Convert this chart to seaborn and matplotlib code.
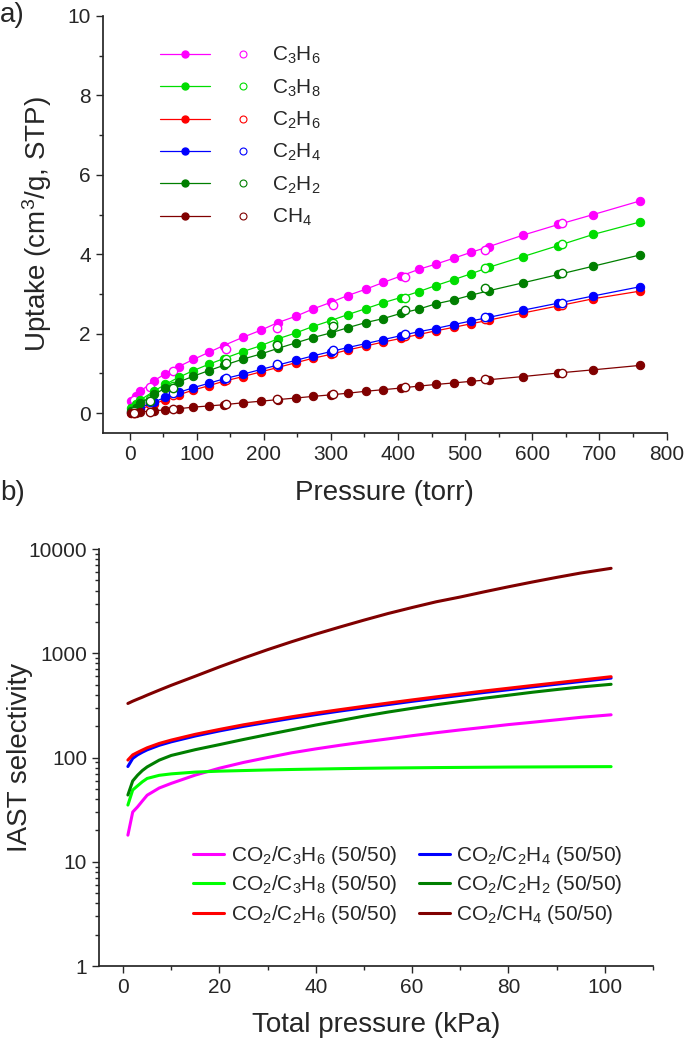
import numpy as np
import pandas as pd
import matplotlib
matplotlib.use("Agg")
import matplotlib.pyplot as plt
import seaborn as sns
from matplotlib.lines import Line2D
from matplotlib.legend_handler import HandlerTuple
from matplotlib.ticker import MultipleLocator, LogLocator, NullFormatter, FixedLocator, FixedFormatter

# -----------------------------
# data: panel a (isotherms, torr vs cm3/g)
# -----------------------------
p_ads = [2, 9, 16, 37, 53, 73, 95, 118, 140, 169, 196, 221, 248, 273, 300, 325,
         352, 378, 404, 431, 456, 483, 509, 535, 586, 639, 691, 760]
p_des = [7, 30, 65, 143, 220, 303, 410, 530, 645]

c3h6_ads = [0.30, 0.42, 0.55, 0.82, 0.99, 1.17, 1.35, 1.53, 1.70, 1.91, 2.09, 2.28, 2.44, 2.62,
            2.79, 2.96, 3.12, 3.29, 3.45, 3.62, 3.75, 3.90, 4.05, 4.19, 4.48, 4.75, 5.00, 5.34]
c3h8_ads = [0.12, 0.22, 0.33, 0.56, 0.72, 0.90, 1.07, 1.23, 1.37, 1.55, 1.70, 1.87, 2.02, 2.18,
            2.33, 2.48, 2.63, 2.78, 2.91, 3.06, 3.21, 3.36, 3.51, 3.67, 3.94, 4.22, 4.50, 4.81]
c2h6_ads = [0.01, 0.05, 0.10, 0.23, 0.34, 0.46, 0.58, 0.69, 0.80, 0.92, 1.04, 1.15, 1.27, 1.38,
            1.48, 1.59, 1.69, 1.79, 1.88, 1.98, 2.07, 2.16, 2.25, 2.34, 2.52, 2.70, 2.88, 3.07]
c2h4_ads = [0.03, 0.08, 0.14, 0.28, 0.40, 0.52, 0.64, 0.75, 0.86, 0.98, 1.10, 1.21, 1.33, 1.44,
            1.55, 1.65, 1.75, 1.85, 1.95, 2.05, 2.13, 2.23, 2.32, 2.41, 2.59, 2.77, 2.95, 3.18]
c2h2_ads = [0.05, 0.14, 0.25, 0.47, 0.63, 0.78, 0.93, 1.07, 1.20, 1.36, 1.49, 1.63, 1.77, 1.90,
            2.02, 2.15, 2.28, 2.38, 2.51, 2.62, 2.75, 2.85, 2.97, 3.08, 3.28, 3.49, 3.70, 3.98]
ch4_ads = [0.00, 0.01, 0.03, 0.06, 0.08, 0.11, 0.15, 0.18, 0.21, 0.26, 0.30, 0.34, 0.38, 0.42,
           0.46, 0.50, 0.55, 0.59, 0.63, 0.68, 0.72, 0.76, 0.80, 0.84, 0.92, 1.01, 1.09, 1.20]

c3h6_des = [0.32, 0.66, 1.05, 1.62, 2.15, 2.72, 3.42, 4.10, 4.78]
c3h8_des = [0.10, 0.36, 0.68, 1.36, 1.75, 2.27, 2.90, 3.65, 4.26]
c2h6_des = [0.01, 0.22, 0.45, 0.83, 1.18, 1.52, 1.93, 2.36, 2.72]
c2h4_des = [0.02, 0.27, 0.50, 0.88, 1.24, 1.58, 2.00, 2.42, 2.78]
c2h2_des = [0.05, 0.30, 0.62, 1.27, 1.72, 2.20, 2.60, 3.15, 3.52]
ch4_des = [0.00, 0.04, 0.10, 0.22, 0.36, 0.48, 0.66, 0.85, 1.02]

gas_labels = ["C$_3$H$_6$", "C$_3$H$_8$", "C$_2$H$_6$", "C$_2$H$_4$", "C$_2$H$_2$", "CH$_4$"]
gas_colors = ["#ff00ff", "#00dd00", "#ff0000", "#0000ff", "#007f00", "#800000"]

# -----------------------------
# data: panel b (IAST selectivity vs total pressure, kPa)
# -----------------------------
p_kpa = [1, 2, 3, 4, 5, 7.5, 10, 15, 20, 25, 30, 35, 40, 45, 50, 55, 60, 65, 70, 75,
         80, 85, 90, 95, 101.3]
sel_c3h6 = [18, 30, 33.6, 38.3, 43.5, 51, 56.5, 67.9, 79, 89.7, 100, 111, 121, 131, 141,
            151, 162, 173, 184, 195, 207, 218, 230, 243, 257]
sel_c3h8 = [35, 48.8, 53.5, 58.5, 63, 67.5, 69.7, 72.5, 74, 75, 76, 76.8, 77.5, 78.2, 78.8,
            79.3, 79.7, 80.1, 80.4, 80.7, 81, 81.2, 81.4, 81.6, 81.8]
sel_c2h6 = [94.6, 106, 112, 118, 124, 136.5, 147, 167, 186, 206, 225, 246, 267, 288, 310,
            333, 357, 382, 408, 435, 462, 491, 521, 553, 596]
sel_c2h4 = [82, 98, 106, 112.5, 118.5, 131, 141.5, 161, 180, 199, 218, 238, 258, 279, 300,
            322, 346, 370, 395, 421, 447, 476, 505, 536, 578]
sel_c2h2 = [43.7, 59.6, 67.6, 75, 81.3, 94.4, 104.7, 119, 133, 149, 166, 184.5, 205, 226,
            249.5, 273, 296.5, 321, 345, 371, 396, 423, 449, 475, 504]
sel_ch4 = [330, 347, 363, 379, 397, 443, 493, 603, 740, 899, 1083, 1291, 1526, 1786, 2080,
           2407, 2748, 3119, 3467, 3890, 4345, 4831, 5346, 5888, 6531]

mix_labels = ["CO$_2$/C$_3$H$_6$ (50/50)", "CO$_2$/C$_3$H$_8$ (50/50)", "CO$_2$/C$_2$H$_6$ (50/50)",
              "CO$_2$/C$_2$H$_4$ (50/50)", "CO$_2$/C$_2$H$_2$ (50/50)", "CO$_2$/CH$_4$ (50/50)"]
mix_colors = ["#ff00ff", "#00ff00", "#ff0000", "#0000ff", "#007f00", "#800000"]

# -----------------------------
# style
# -----------------------------
sns.set_theme(style="ticks")
plt.rcParams["font.family"] = ["Liberation Sans", "DejaVu Sans"]
plt.rcParams["mathtext.default"] = "regular"
plt.rcParams["xtick.direction"] = "out"
plt.rcParams["ytick.direction"] = "out"

fig = plt.figure(figsize=(6.85, 10.44), dpi=100)
ax1 = fig.add_axes([0.150, 0.5853, 0.823, 0.3994])
ax2 = fig.add_axes([0.1445, 0.0747, 0.8088, 0.3994])

# -----------------------------
# panel a
# -----------------------------
ads_list = [c3h6_ads, c3h8_ads, c2h6_ads, c2h4_ads, c2h2_ads, ch4_ads]
des_list = [c3h6_des, c3h8_des, c2h6_des, c2h4_des, c2h2_des, ch4_des]
handles_a = []
for lab, col, ads, des in zip(gas_labels, gas_colors, ads_list, des_list):
    sns.lineplot(x=p_ads, y=ads, ax=ax1, color=col, lw=0.9, marker="o", ms=6,
                 mec=col, mfc=col, legend=False)
    sns.lineplot(x=p_des, y=des, ax=ax1, color=col, linestyle="", marker="o", ms=6,
                 mec=col, mfc="white", mew=1.0, legend=False)
    h1 = Line2D([], [], color=col, lw=0.9, marker="o", ms=5, mec=col, mfc=col)
    h2 = Line2D([], [], color=col, linestyle="", marker="o", ms=5, mec=col, mfc="white", mew=0.8)
    handles_a.append((h1, h2))

ax1.set_xlim(-40, 800)
ax1.set_ylim(-0.5, 10)
ax1.xaxis.set_major_locator(MultipleLocator(100))
ax1.xaxis.set_minor_locator(MultipleLocator(50))
ax1.yaxis.set_major_locator(MultipleLocator(2))
ax1.yaxis.set_minor_locator(MultipleLocator(1))
ax1.set_xlabel("Pressure (torr)", fontsize=20)
ax1.set_ylabel("Uptake (cm$^3$/g, STP)", fontsize=20)
ax1.xaxis.set_label_coords(0.5, -0.113)
ax1.yaxis.set_label_coords(-0.087, 0.5)
ax1.tick_params(axis="both", which="major", labelsize=15, length=5, width=1)
ax1.tick_params(axis="both", which="minor", length=3, width=1)
sns.despine(ax=ax1)

ax1.legend(handles_a, gas_labels, handler_map={tuple: HandlerTuple(ndivide=2, pad=0.4)},
           loc="upper left", bbox_to_anchor=(0.083, 0.955), frameon=False, fontsize=15,
           handlelength=5.2, handletextpad=0.2, labelspacing=0.53, borderpad=0)

# -----------------------------
# panel b
# -----------------------------
sel_list = [sel_c3h6, sel_c3h8, sel_c2h6, sel_c2h4, sel_c2h2, sel_ch4]
lines_b = {}
for i in [0, 1, 3, 4, 2, 5]:
    sns.lineplot(x=p_kpa, y=sel_list[i], ax=ax2, color=mix_colors[i], lw=2.2, legend=False)
    lines_b[i] = ax2.lines[-1]

ax2.set_yscale("log")
ax2.set_xlim(-5, 110)
ax2.set_ylim(1, 10000)
ax2.xaxis.set_major_locator(MultipleLocator(20))
ax2.xaxis.set_minor_locator(MultipleLocator(10))
ax2.yaxis.set_major_locator(FixedLocator([1, 10, 100, 1000, 10000]))
ax2.yaxis.set_major_formatter(FixedFormatter(["1", "10", "100", "1000", "10000"]))
ax2.yaxis.set_minor_locator(LogLocator(base=10, subs=np.arange(2, 10)))
ax2.yaxis.set_minor_formatter(NullFormatter())
ax2.set_xlabel("Total pressure (kPa)", fontsize=20)
ax2.set_ylabel("IAST selectivity", fontsize=20)
ax2.xaxis.set_label_coords(0.5, -0.110)
ax2.yaxis.set_label_coords(-0.119, 0.5)
ax2.tick_params(axis="both", which="major", labelsize=15, length=5, width=1)
ax2.tick_params(axis="both", which="minor", length=3, width=1)
sns.despine(ax=ax2)

ax2.legend([lines_b[i] for i in range(6)], mix_labels, ncol=2, loc="upper left",
           bbox_to_anchor=(0.151, 0.318), frameon=False, fontsize=15, handlelength=1.5,
           handletextpad=0.3, columnspacing=1.05, labelspacing=0.32, borderpad=0)

fig.text(0.0, 1 - 15 / 1044, "a)", fontsize=20, va="center", ha="left")
fig.text(0.0, 1 - 493 / 1044, "b)", fontsize=20, va="center", ha="left")

fig.savefig("out.png", dpi=100)
